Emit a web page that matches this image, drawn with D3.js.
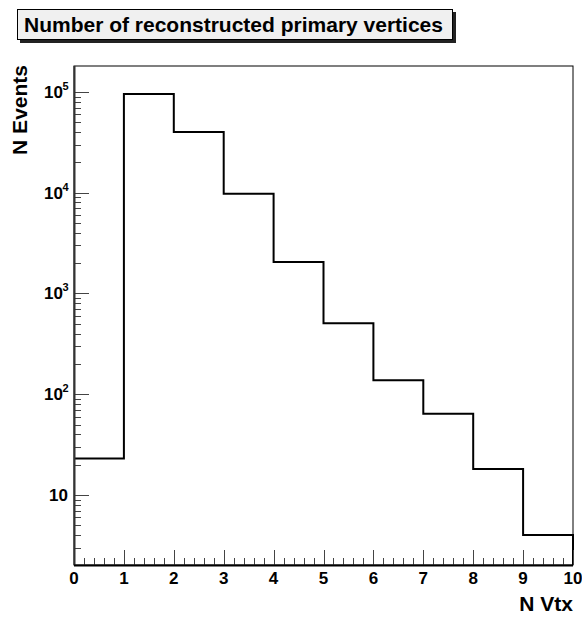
<!DOCTYPE html>
<html><head><meta charset="utf-8">
<script src="https://cdn.jsdelivr.net/npm/d3@7"></script>
<style>body{margin:0;background:#fff}svg{display:block}text{font-family:"Liberation Sans",Arial,sans-serif;font-weight:bold}</style>
</head><body><svg id="c" width="582" height="619"></svg>
<script>
const binEdges = [0,1,2,3,4,5,6,7,8,9,10];
const counts = [23, 95500, 40100, 9780, 2050, 507, 138, 64, 18.1, 4.0];
const yDecades = [10, 100, 1000, 10000, 100000];
const yDecadeLabels = [["10",""],["10","2"],["10","3"],["10","4"],["10","5"]];
const xTicks = [0,1,2,3,4,5,6,7,8,9,10];
const title = "Number of reconstructed primary vertices";
const xTitle = "N Vtx";
const yTitle = "N Events";

const svg = d3.select("#c");
const L=74, R=573, T=66, B=565;
const x = d3.scaleLinear().domain([0,10]).range([L,R]);
const y = d3.scaleLog().domain([2.02, 181000]).range([B,T]);

// frame
svg.append("rect").attr("x",L).attr("y",T).attr("width",R-L).attr("height",B-T)
  .attr("fill","none").attr("stroke","#000").attr("stroke-width",1);

// histogram step path
const pts = [];
counts.forEach((c,i)=>{ pts.push([x(binEdges[i]), y(c)]); pts.push([x(binEdges[i+1]), y(c)]); });
pts.push([x(binEdges[binEdges.length-1]), B]);
svg.append("path").attr("d", d3.line()(pts)).attr("fill","none")
  .attr("stroke","#000").attr("stroke-width",2);

// y ticks
const g = svg.append("g").attr("stroke","#444").attr("stroke-width",1);
const yMinor = [];
for (let d=1; d<=100000; d*=10) for (let k=1;k<=9;k++){ const v=k*d; if (v>=2.02 && v<=181000) yMinor.push(v); }
yMinor.forEach(v=>{
  const major = yDecades.includes(v);
  const yy = Math.round(y(v))+0.5;
  g.append("line").attr("x1",L).attr("x2",L+(major?15:7)).attr("y1",yy).attr("y2",yy);
});
// x ticks
for (let i=1;i<=50;i++){
  const v=i/5; const major = i%5===0;
  const xx=Math.round(x(v))+0.5;
  g.append("line").attr("x1",xx).attr("x2",xx).attr("y1",B).attr("y2",B-(major?15:7));
}
// axis lines
svg.append("line").attr("x1",L+0.5).attr("x2",L+0.5).attr("y1",T).attr("y2",B).attr("stroke","#333").attr("stroke-width",2);
svg.append("line").attr("x1",L).attr("x2",R).attr("y1",B+0.5).attr("y2",B+0.5).attr("stroke","#000").attr("stroke-width",2);

// y labels
yDecades.forEach((v,i)=>{
  const [base,exp] = yDecadeLabels[i];
  svg.append("text").attr("text-anchor","end").attr("font-size",17)
    .attr("x", exp? 63: 68).attr("y", y(v)+6).text(base);
  if (exp) svg.append("text").attr("font-size",11).attr("x",62.5).attr("y",y(v)-2).text(exp);
});
// x labels
xTicks.forEach(v=>{
  svg.append("text").attr("text-anchor","middle").attr("font-size",17)
    .attr("x", x(v)).attr("y", 584).text(v);
});
// axis titles
svg.append("text").attr("text-anchor","end").attr("font-size",21).attr("x",R).attr("y",611).text(xTitle);
svg.append("text").attr("text-anchor","end").attr("font-size",21)
  .attr("transform",`translate(27,${T-1}) rotate(-90)`).text(yTitle);

// title box
svg.append("rect").attr("x",20).attr("y",12).attr("width",436).attr("height",31).attr("fill","#222");
svg.append("rect").attr("x",17.5).attr("y",9.5).attr("width",435).attr("height",30).attr("fill","#f0f0f0").attr("stroke","#000");
svg.append("text").attr("font-size",21).attr("x",24).attr("y",32).text(title);
</script></body></html>
